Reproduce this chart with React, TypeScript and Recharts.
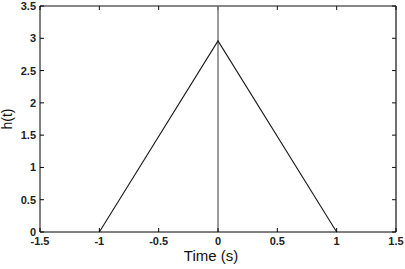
import { LineChart, Line, XAxis, YAxis, ReferenceLine, Label, CartesianGrid } from "recharts";

// triangle pulse h(t)
const times = [-1, 0, 1];
const heights = [0, 2.96, 0];

const xTicks = [-1.5, -1, -0.5, 0, 0.5, 1, 1.5];
const yTicks = [0, 0.5, 1, 1.5, 2, 2.5, 3, 3.5];

const data = times.map((t, i) => ({ t, h: heights[i] }));

const FONT = "'Liberation Sans', Arial, Helvetica, sans-serif";
const AXIS = "#000000";
const TICK = 4;

const renderXTick = ({ x, y, payload }: any) => (
  <text key={payload.value} x={x} y={y + 8} textAnchor="middle" fontSize={11} fontWeight="bold" fontFamily={FONT} fill="#222">
    {String(payload.value)}
  </text>
);

const renderYTick = ({ x, y, payload }: any) => (
  <text key={payload.value} x={x} y={y + 4} textAnchor="end" fontSize={11} fontWeight="bold" fontFamily={FONT} fill="#222">
    {String(payload.value)}
  </text>
);

// grid only used for the inward ticks on the top and right edges of the box
const hLine = ({ x2, y1, index }: any) => (
  <line key={`h${index}`} x1={x2 - TICK} x2={x2} y1={y1} y2={y1} stroke="#111" strokeWidth={1} />
);

const vLine = ({ x1, y1, y2, index }: any) => (
  <line key={`v${index}`} x1={x1} x2={x1} y1={Math.min(y1, y2)} y2={Math.min(y1, y2) + TICK} stroke="#111" strokeWidth={1} />
);

export default function App() {
  return (
    <div style={{ position: "absolute", left: 0, top: 0, width: 405, height: 269, background: "#fff" }}>
      <LineChart width={405} height={269} data={data} margin={{ top: 6, right: 9, bottom: 0, left: 0 }}>
        <CartesianGrid horizontal={hLine} vertical={vLine} />
        <ReferenceLine y={3.5} stroke="#111" strokeWidth={1.2} />
        <ReferenceLine x={1.5} stroke="#111" strokeWidth={1.2} />
        <XAxis
          dataKey="t"
          type="number"
          domain={[-1.5, 1.5]}
          ticks={xTicks}
          interval={0}
          height={37}
          stroke={AXIS}
          tickSize={-4}
          tickMargin={9}
          tick={renderXTick}
          tickLine={{ stroke: AXIS }}
        >
          <Label
            content={({ viewBox }: any) => (
              <text x={viewBox.x + viewBox.width / 2 - 7} y={261} textAnchor="middle" fontSize={15} fontFamily={FONT} fill="#111">
                Time (s)
              </text>
            )}
          />
        </XAxis>
        <YAxis
          type="number"
          domain={[0, 3.5]}
          ticks={yTicks}
          interval={0}
          width={40}
          stroke={AXIS}
          tickSize={-4}
          tickMargin={8}
          tick={renderYTick}
          tickLine={{ stroke: AXIS }}
        >
          <Label
            content={({ viewBox }: any) => {
              const cx = 12;
              const cy = viewBox.y + viewBox.height / 2;
              return (
                <text x={cx} y={cy} transform={`rotate(-90, ${cx}, ${cy})`} textAnchor="middle" fontSize={14} fontFamily={FONT} fill="#111">
                  h(t)
                </text>
              );
            }}
          />
        </YAxis>
        <ReferenceLine x={0} stroke="#7a7a7a" strokeWidth={1.5} />
        <Line dataKey="h" type="linear" stroke="#1a1a1a" strokeWidth={1.1} dot={false} isAnimationActive={false} />
      </LineChart>
    </div>
  );
}
